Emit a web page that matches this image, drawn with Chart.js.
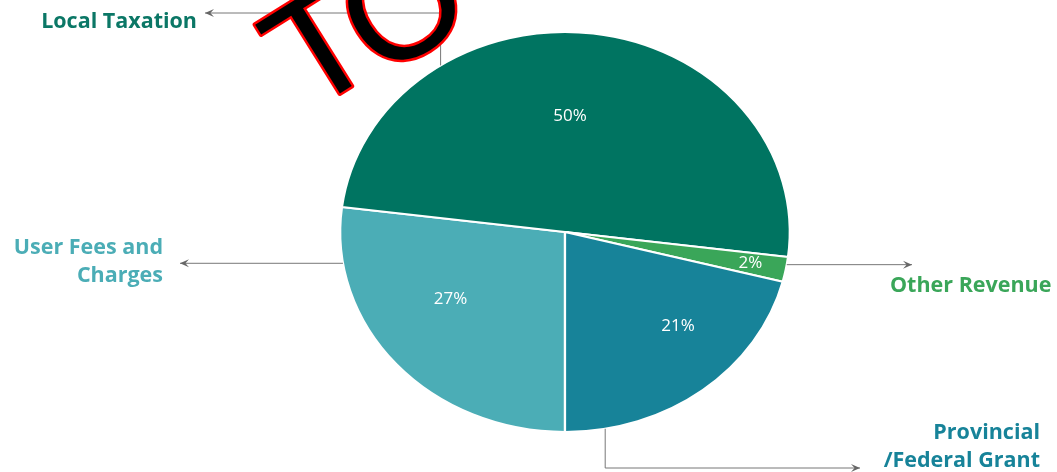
<!DOCTYPE html>
<html>
<head>
<meta charset="utf-8">
<script src="https://cdn.jsdelivr.net/npm/chart.js@4.4.0/dist/chart.umd.min.js"></script>
<style>
  html, body { margin: 0; padding: 0; background: #fff; }
  #wrap { width: 1057px; height: 472px; }
</style>
</head>
<body>
<div id="wrap"><canvas id="pieChart" width="1057" height="472"></canvas></div>
<script>
// slices go clockwise, starting straight down (rotation 180)
const categories = ['User Fees and Charges', 'Local Taxation', 'Other Revenue', 'Provincial /Federal Grant'];
const shares = [27, 50, 2, 21];
const valueLabels = ['27%', '50%', '2%', '21%'];
const calloutText = [['User Fees and', 'Charges'], ['Local Taxation'], ['Other Revenue'], ['Provincial', '/Federal Grant']];

const sliceColors = ['#4badb6', '#007461', '#3aa659', '#178399'];
const textColors = ['#4badb6', '#0b7766', '#3aa659', '#178399'];

// the original picture is a bit wider than tall
const stretchX = 1.124;
// where the % label sits: part of the radius, and a small turn off the middle (deg)
const labelRadius = [0.61, 0.58, 0.84, 0.69];
const labelTurn = [8, -5, 0, -9];

// leader lines: start on the pie edge (deg clockwise from top), then h/v moves
const callouts = [
    { angle: 261,   moves: [['h', 180]],             text: { x: 163, y: 248, align: 'right' } },
    { angle: 326.4, moves: [['v', 13], ['h', 205]],  text: { x: 197, y: 22,  align: 'right' } },
    { angle: 99.4,  moves: [['h', 912]],             text: { x: 890, y: 286, align: 'left' } },
    { angle: 169.7, moves: [['v', 468], ['h', 860]], text: { x: 1040, y: 433, align: 'right' } }
];

const ellipsePlugin = {
    id: 'ellipse',
    beforeDatasetsDraw(chart) {
        const arc = chart.getDatasetMeta(0).data[0];
        const ctx = chart.ctx;
        ctx.save();
        ctx.translate(arc.x, arc.y);
        ctx.scale(stretchX, 1);
        ctx.translate(-arc.x, -arc.y);
    },
    afterDatasetsDraw(chart) {
        chart.ctx.restore();
    }
};

function arrowHead(ctx, x, y, dx, dy) {
    const len = 9, half = 4;
    ctx.beginPath();
    ctx.moveTo(x, y);
    ctx.lineTo(x - dx * len - dy * half, y - dy * len + dx * half);
    ctx.lineTo(x - dx * len * 0.6, y - dy * len * 0.6);
    ctx.lineTo(x - dx * len + dy * half, y - dy * len - dx * half);
    ctx.closePath();
    ctx.fill();
}

const labelsPlugin = {
    id: 'pieLabels',
    afterDraw(chart) {
        const ctx = chart.ctx;
        const arcs = chart.getDatasetMeta(0).data;
        const cx = arcs[0].x, cy = arcs[0].y, r = arcs[0].outerRadius;

        // percentages inside the slices
        ctx.save();
        ctx.fillStyle = '#ffffff';
        ctx.font = '17px "Open Sans", sans-serif';
        ctx.textAlign = 'center';
        ctx.textBaseline = 'middle';
        arcs.forEach((a, i) => {
            const mid = (a.startAngle + a.endAngle) / 2 + labelTurn[i] * Math.PI / 180;
            const rr = r * labelRadius[i];
            ctx.fillText(valueLabels[i], cx + stretchX * rr * Math.cos(mid), cy + rr * Math.sin(mid));
        });
        ctx.restore();

        // leader lines and category names
        ctx.save();
        callouts.forEach((c, i) => {
            const rad = c.angle * Math.PI / 180;
            let x = cx + stretchX * r * Math.sin(rad);
            let y = cy - r * Math.cos(rad);
            ctx.strokeStyle = '#777777';
            ctx.fillStyle = '#666666';
            ctx.lineWidth = 1;
            ctx.beginPath();
            ctx.moveTo(x, y);
            let dx = 0, dy = 0;
            c.moves.forEach(m => {
                if (m[0] === 'h') { dx = Math.sign(m[1] - x); dy = 0; x = m[1]; }
                else { dy = Math.sign(m[1] - y); dx = 0; y = m[1]; }
                ctx.lineTo(x, y);
            });
            ctx.stroke();
            arrowHead(ctx, x, y, dx, dy);

            ctx.fillStyle = textColors[i];
            ctx.font = 'bold 21.5px "Open Sans", sans-serif';
            ctx.textAlign = c.text.align;
            ctx.textBaseline = 'middle';
            calloutText[i].forEach((line, k) => {
                ctx.fillText(line, c.text.x, c.text.y + k * 28);
            });
        });
        ctx.restore();

        // the big "TO" stamp over the top
        ctx.save();
        ctx.translate(307, 114);
        ctx.rotate(-32 * Math.PI / 180);
        ctx.font = '150px "Liberation Sans", sans-serif';
        ctx.textAlign = 'left';
        ctx.textBaseline = 'alphabetic';
        ctx.lineJoin = 'round';
        ctx.strokeStyle = '#ff0000';
        ctx.lineWidth = 5;
        const oX = ctx.measureText('T').width - 12, oY = 10;
        ctx.strokeText('T', 0, 0);
        ctx.strokeText('O', oX, oY);
        ctx.fillStyle = '#000000';
        ctx.fillText('T', 0, 0);
        ctx.fillText('O', oX, oY);
        ctx.restore();
    }
};

const ctx = document.getElementById('pieChart').getContext('2d');
const pieChart = new Chart(ctx, {
    type: 'pie',
    data: {
        labels: categories,
        datasets: [{
            data: shares,
            backgroundColor: sliceColors,
            borderColor: '#ffffff',
            borderWidth: 2,
            clip: false
        }]
    },
    options: {
        responsive: false,
        animation: false,
        rotation: 180,
        events: [],
        layout: {
            padding: { top: 31, bottom: 39, left: 90, right: 17 }
        },
        plugins: {
            legend: { display: false },
            tooltip: { enabled: false }
        }
    },
    plugins: [ellipsePlugin, labelsPlugin]
});
</script>
</body>
</html>
